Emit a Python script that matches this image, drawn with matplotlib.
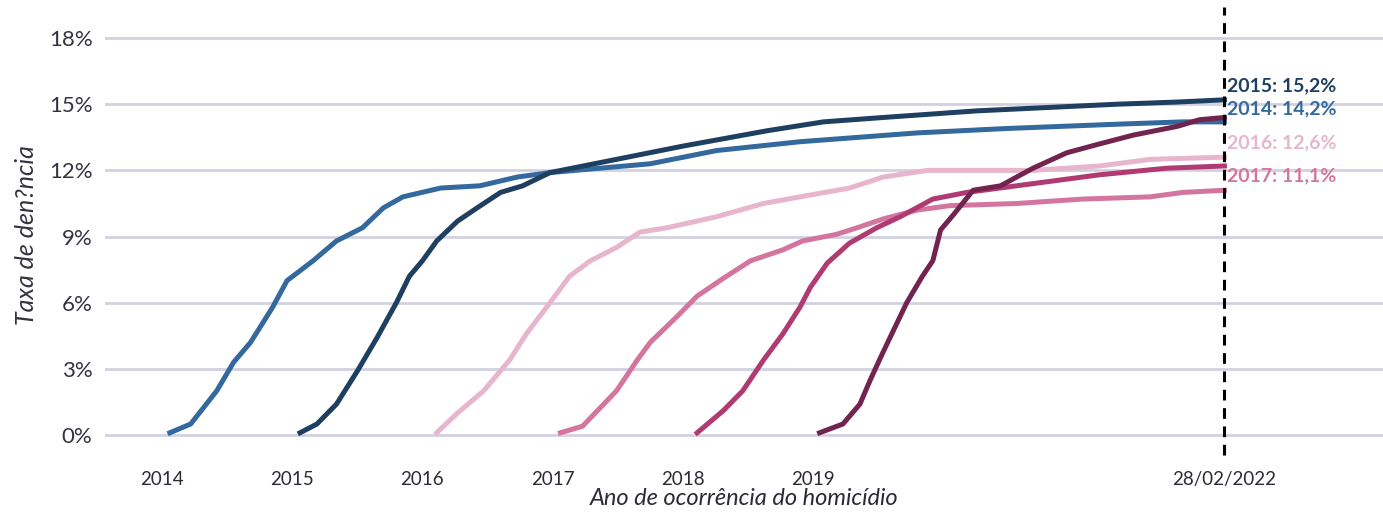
import matplotlib
matplotlib.use('Agg')
import matplotlib.pyplot as plt

plt.rcParams['font.family'] = ['Lato', 'DejaVu Sans']

# anos de referência (ano decimal) e taxa acumulada de denúncia (%)
x_2014 = [2014.06, 2014.22, 2014.42, 2014.55, 2014.68, 2014.85, 2014.96, 2015.16, 2015.34, 2015.54,
          2015.70, 2015.85, 2016.14, 2016.44, 2016.73, 2016.98, 2017.75, 2018.26, 2018.90, 2019.80,
          2020.49, 2021.36, 2021.84, 2022.16]
y_2014 = [0.1, 0.5, 2.0, 3.3, 4.2, 5.8, 7.0, 7.9, 8.8, 9.4,
          10.3, 10.8, 11.2, 11.3, 11.7, 11.9, 12.3, 12.9, 13.3, 13.7,
          13.9, 14.1, 14.2, 14.2]

x_2015 = [2015.06, 2015.19, 2015.34, 2015.50, 2015.65, 2015.80, 2015.90, 2016.00, 2016.11, 2016.27,
          2016.42, 2016.60, 2016.77, 2016.98, 2017.49, 2018.00, 2018.65, 2019.08, 2019.54, 2020.26,
          2021.33, 2021.80, 2022.16]
y_2015 = [0.1, 0.5, 1.4, 2.9, 4.4, 6.0, 7.2, 7.9, 8.8, 9.7,
          10.3, 11.0, 11.3, 11.9, 12.5, 13.1, 13.8, 14.2, 14.4, 14.7,
          15.0, 15.1, 15.2]

x_2016 = [2016.11, 2016.27, 2016.47, 2016.67, 2016.80, 2016.98, 2017.13, 2017.29, 2017.49, 2017.67,
          2017.88, 2018.26, 2018.62, 2018.90, 2019.28, 2019.54, 2019.88, 2020.69, 2021.20, 2021.59,
          2022.16]
y_2016 = [0.1, 1.0, 2.0, 3.4, 4.6, 6.0, 7.2, 7.9, 8.5, 9.2,
          9.4, 9.9, 10.5, 10.8, 11.2, 11.7, 12.0, 12.0, 12.2, 12.5,
          12.6]

x_2017 = [2017.06, 2017.23, 2017.49, 2017.65, 2017.75, 2017.96, 2018.11, 2018.31, 2018.52, 2018.77,
          2018.92, 2019.18, 2019.34, 2019.54, 2019.80, 2020.05, 2020.57, 2021.07, 2021.59, 2021.84,
          2022.16]
y_2017 = [0.1, 0.4, 2.0, 3.4, 4.2, 5.4, 6.3, 7.1, 7.9, 8.4,
          8.8, 9.1, 9.4, 9.8, 10.2, 10.4, 10.5, 10.7, 10.8, 11.0,
          11.1]

x_2018 = [2018.11, 2018.31, 2018.46, 2018.62, 2018.77, 2018.90, 2018.98, 2019.11, 2019.28, 2019.49,
          2019.67, 2019.92, 2020.18, 2020.69, 2021.20, 2021.72, 2022.16]
y_2018 = [0.1, 1.1, 2.0, 3.4, 4.6, 5.8, 6.7, 7.8, 8.7, 9.4,
          9.9, 10.7, 11.0, 11.4, 11.8, 12.1, 12.2]

x_2019 = [2019.05, 2019.23, 2019.36, 2019.44, 2019.51, 2019.59, 2019.72, 2019.84, 2019.92, 2019.98,
          2020.08, 2020.23, 2020.44, 2020.69, 2020.95, 2021.20, 2021.46, 2021.80, 2021.97, 2022.16]
y_2019 = [0.1, 0.5, 1.4, 2.5, 3.4, 4.4, 6.0, 7.2, 7.9, 9.3,
          10.0, 11.1, 11.3, 12.1, 12.8, 13.2, 13.6, 14.0, 14.3, 14.4]

anos = ['2014', '2015', '2016', '2017', '2018', '2019']
cores = ['#34699d', '#1f3f61', '#e7b6cd', '#d4759f', '#b03a72', '#72234f']
series_x = [x_2014, x_2015, x_2016, x_2017, x_2018, x_2019]
series_y = [y_2014, y_2015, y_2016, y_2017, y_2018, y_2019]

xticks = [2014, 2015, 2016, 2017, 2018, 2019, 2022.16]
xticklabels = ['2014', '2015', '2016', '2017', '2018', '2019', '28/02/2022']
data_corte = 2022.16

# anos com rótulo à direita e posição vertical do rótulo
rotulos = {'2015': 15.85, '2014': 14.8, '2016': 13.25, '2017': 11.75}

fig = plt.figure(figsize=(13.83, 5.12), dpi=100)
ax = fig.add_axes([105 / 1383, 62 / 512, 1 - 105 / 1383, 430 / 512])

for ano, cor, xs, ys in zip(anos, cores, series_x, series_y):
    ax.plot(xs, ys, color=cor, lw=3.6, solid_joinstyle='round', zorder=3)

# linha tracejada da data de corte
ax.plot([data_corte, data_corte], [-0.9, 19.4], color='black', lw=2.2,
        ls=(0, (3.5, 2.5)), clip_on=False, zorder=4)

for ano, ypos in rotulos.items():
    i = anos.index(ano)
    valor = series_y[i][-1]
    ax.text(data_corte + 0.02, ypos, f'{ano}: {valor:.1f}%'.replace('.', ','),
            color=cores[i], fontsize=14, fontweight='bold', va='center', ha='left', zorder=5)

ax.set_xlim(2013.562, 2023.378)
ax.set_ylim(-0.68, 18.82)
ax.set_yticks([0, 3, 6, 9, 12, 15, 18])
ax.set_yticklabels(['0%', '3%', '6%', '9%', '12%', '15%', '18%'])
ax.set_xticks(xticks)
ax.set_xticklabels(xticklabels)
ax.grid(axis='y', color='#d3d1e1', lw=2)
ax.set_axisbelow(True)
for s in ax.spines.values():
    s.set_visible(False)
ax.tick_params(axis='y', length=0, pad=9, labelsize=16, labelcolor='#333340')
ax.tick_params(axis='x', length=0, pad=15, labelsize=13.5, labelcolor='#2b2b35')

ax.set_xlabel('Ano de ocorrência do homicídio', fontsize=17, style='italic',
              color='#2b2b35', labelpad=0)
ax.set_ylabel('Taxa de den?ncia', fontsize=18, style='italic', color='#333340', labelpad=8)

fig.savefig('out.png', dpi=100)
